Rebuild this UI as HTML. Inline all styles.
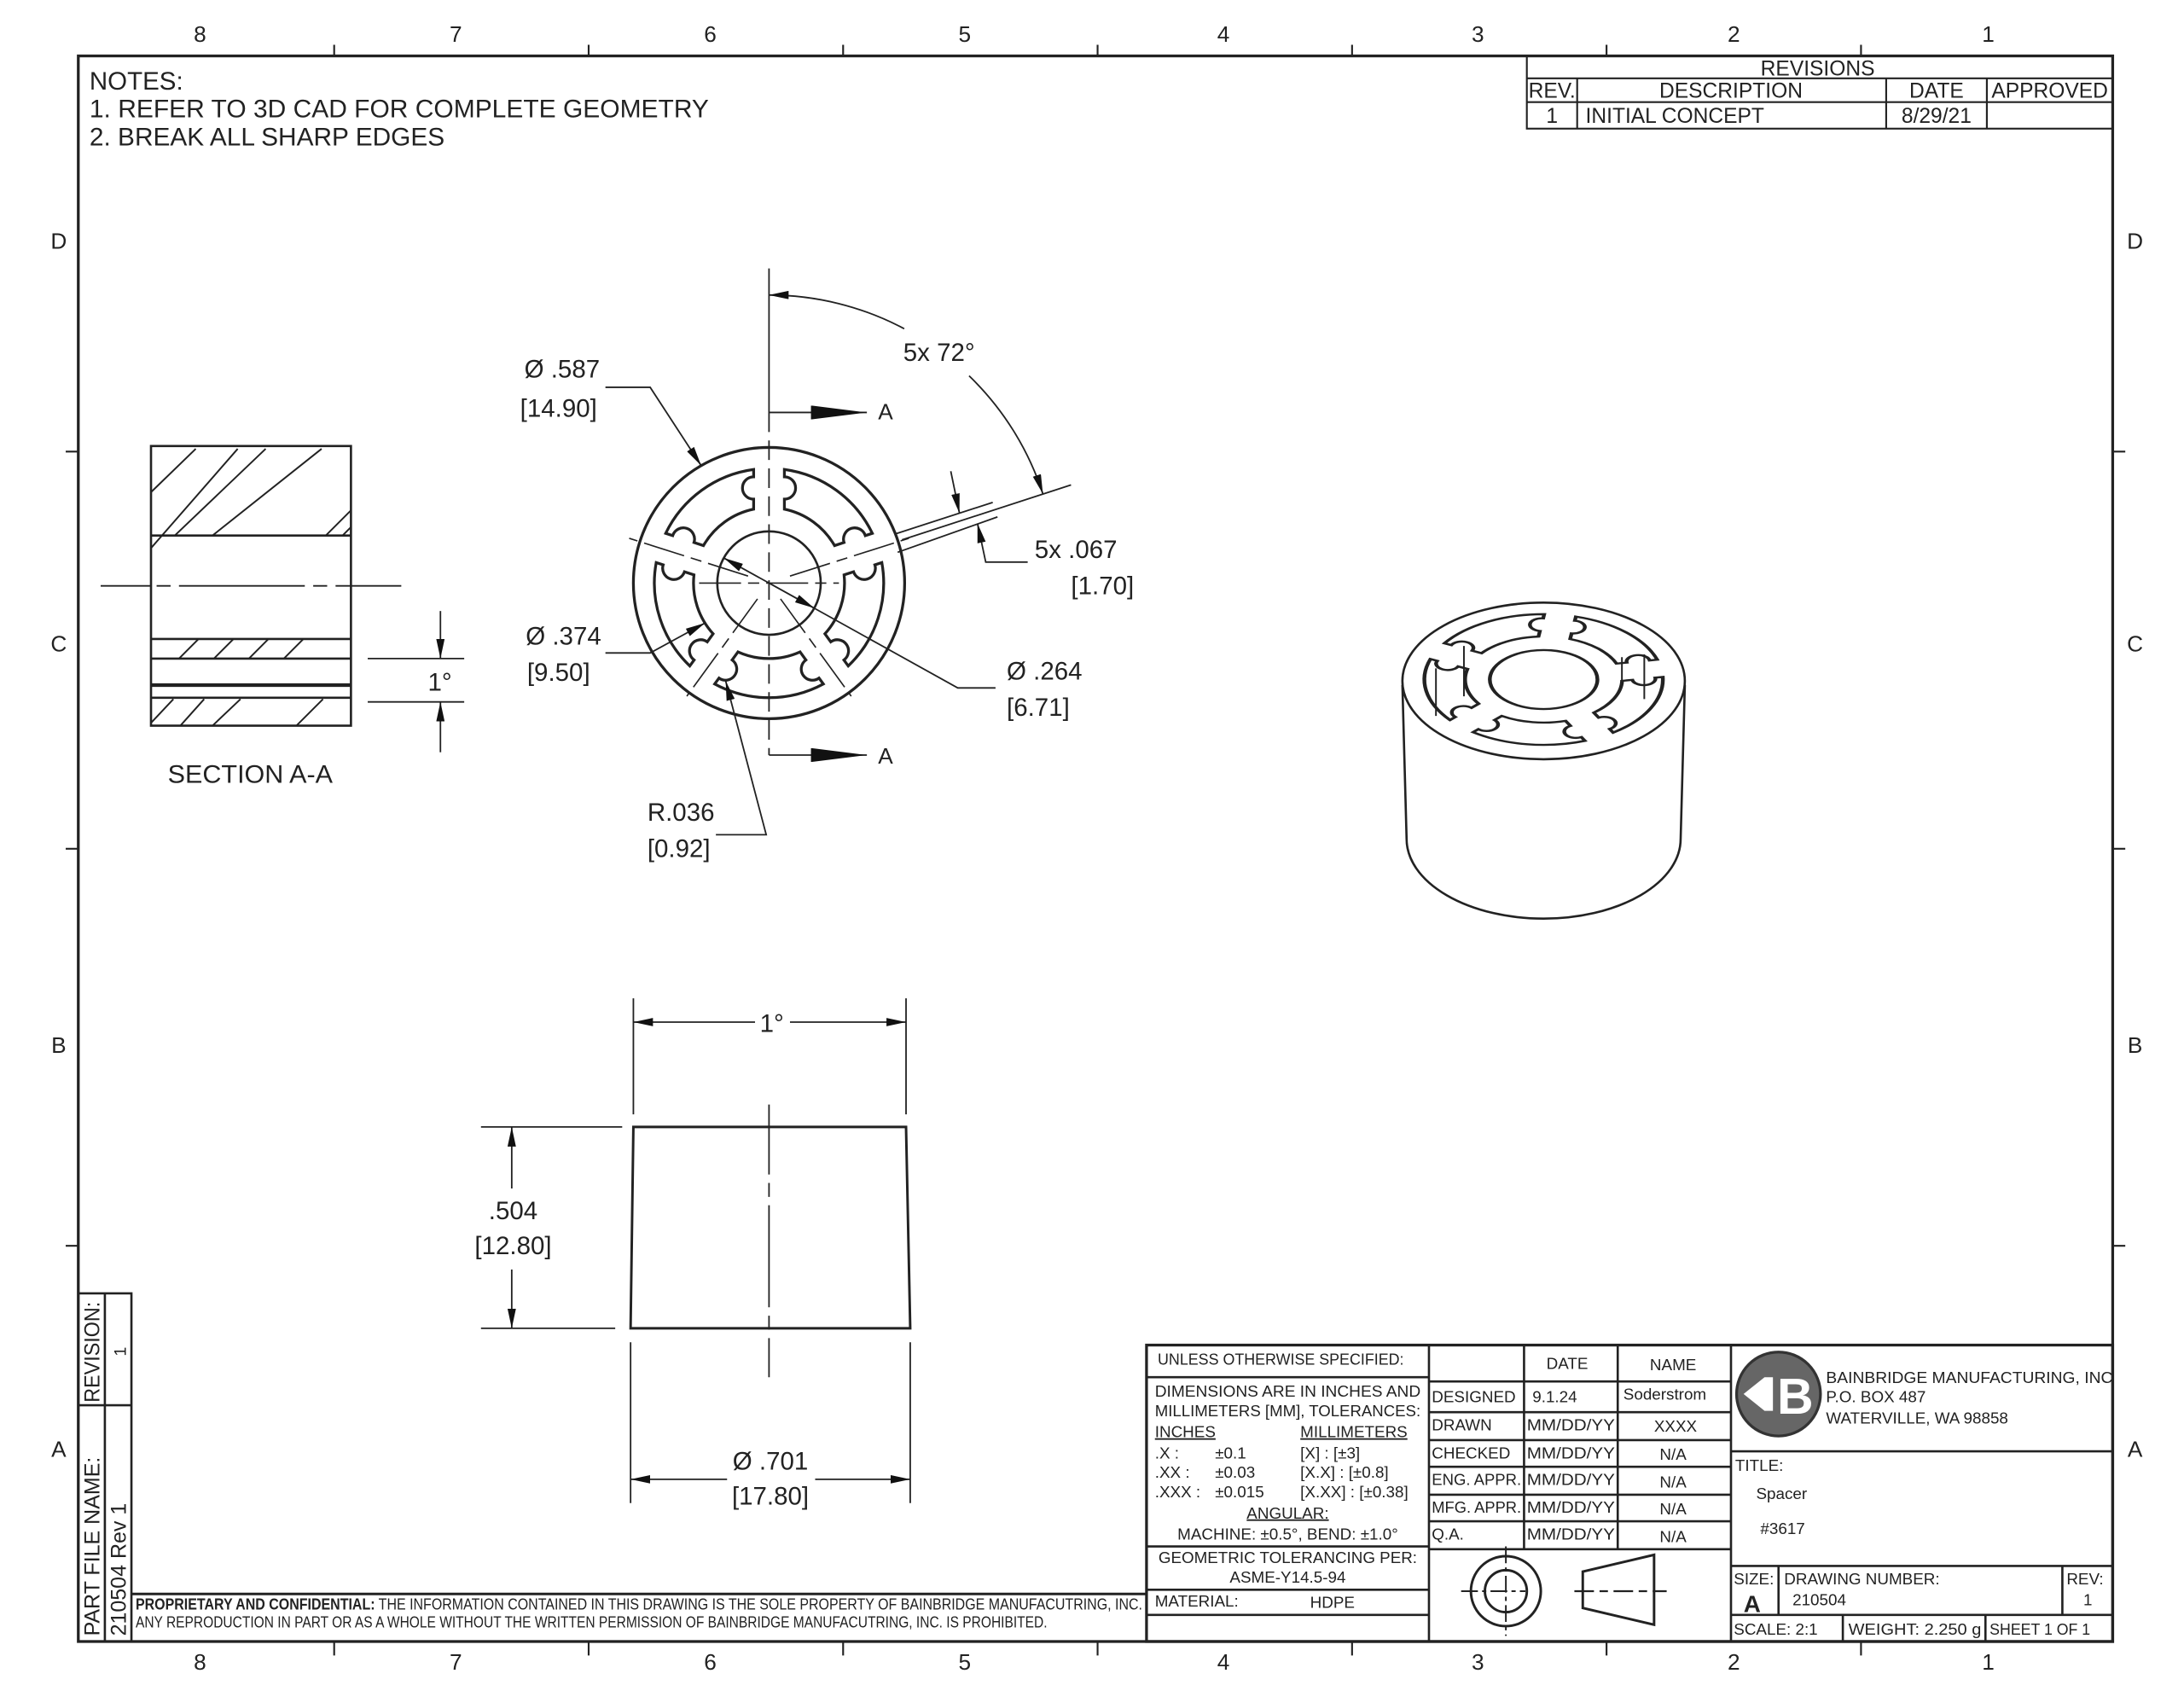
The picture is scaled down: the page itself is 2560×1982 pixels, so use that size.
<!DOCTYPE html>
<html><head><meta charset="utf-8"><style>
html,body{margin:0;padding:0;background:#fff}
svg{display:block}
text{font-family:"Liberation Sans",sans-serif;fill:#222}
</style></head><body>
<svg width="2560" height="1982" viewBox="0 0 1562 1209.4" preserveAspectRatio="none" xmlns="http://www.w3.org/2000/svg">
<defs>
<marker id="ar" viewBox="0 0 14 6" refX="14" refY="3" markerWidth="14" markerHeight="6" markerUnits="userSpaceOnUse" orient="auto-start-reverse"><path d="M0,0 L14,3 L0,6 Z" fill="#111"/></marker>
<marker id="big" viewBox="0 0 40 10" refX="40" refY="5" markerWidth="40" markerHeight="10" markerUnits="userSpaceOnUse" orient="auto"><path d="M0,0 L40,5 L0,10 Z" fill="#111"/></marker>
<path id="slot" d="M11,-81.26 A82,82 0 0 1 73.88,-35.57 L68.88,-33.94 A8,8 0 0 0 53.66,-29.00 L46.88,-26.80 A54,54 0 0 0 11,-52.87 L11,-60 A8,8 0 0 0 11,-76 Z"/>
</defs>
<rect width="1562" height="1210" fill="#fff"/>

<g stroke="#222" fill="none">
<rect x="56" y="40" width="1455" height="1134" stroke-width="2"/>
<g stroke-width="1.3">
<path d="M239,32V40M421,32V40M603,32V40M785,32V40M967,32V40M1149,32V40M1331,32V40"/>
<path d="M239,1174V1184M421,1174V1184M603,1174V1184M785,1174V1184M967,1174V1184M1149,1174V1184M1331,1174V1184"/>
<path d="M47,323H56M47,607H56M47,891H56M1511,323H1520M1511,607H1520M1511,891H1520"/>
</g></g>
<g font-size="16" text-anchor="middle">
<text x="143" y="30">8</text><text x="326" y="30">7</text><text x="508" y="30">6</text><text x="690" y="30">5</text><text x="875" y="30">4</text><text x="1057" y="30">3</text><text x="1240" y="30">2</text><text x="1422" y="30">1</text>
<text x="143" y="1194">8</text><text x="326" y="1194">7</text><text x="508" y="1194">6</text><text x="690" y="1194">5</text><text x="875" y="1194">4</text><text x="1057" y="1194">3</text><text x="1240" y="1194">2</text><text x="1422" y="1194">1</text>
<text x="42" y="178">D</text><text x="42" y="466">C</text><text x="42" y="753">B</text><text x="42" y="1042">A</text>
<text x="1527" y="178">D</text><text x="1527" y="466">C</text><text x="1527" y="753">B</text><text x="1527" y="1042">A</text>
</g>

<g font-size="18">
<text x="64" y="64">NOTES:</text>
<text x="64" y="84" textLength="443" lengthAdjust="spacingAndGlyphs">1.  REFER TO 3D CAD FOR COMPLETE GEOMETRY</text>
<text x="64" y="104" textLength="254" lengthAdjust="spacingAndGlyphs">2.  BREAK ALL SHARP EDGES</text>
</g>

<g stroke="#222" fill="none" stroke-width="1.3">
<rect x="1092" y="40" width="419" height="52"/>
<path d="M1092,56H1511M1092,73H1511M1128,56V92M1349,56V92M1421,56V92"/>
</g>
<g font-size="15" text-anchor="middle">
<text x="1300" y="54">REVISIONS</text>
<text x="1110" y="70">REV.</text><text x="1238" y="70">DESCRIPTION</text><text x="1385" y="70">DATE</text><text x="1466" y="70">APPROVED</text>
<text x="1110" y="88">1</text><text x="1385" y="88">8/29/21</text>
<text x="1134" y="88" text-anchor="start">INITIAL CONCEPT</text>
</g>

<g stroke="#222" fill="none" stroke-width="1.6">
<rect x="108" y="319" width="143" height="200"/>
<path d="M108,383H251M108,457H251M108,471H251M108,499H251"/>
<path d="M108,490H251" stroke-width="2.6"/>
<g stroke-width="1.2">
<path d="M108,352L140,321M108,392L170,321M125,383L190,321M152,383L230,321"/>
<path d="M233,383L251,365M245,383L251,377"/>
<path d="M128,471L142,457M153,471L167,457M178,471L192,457M203,471L217,457"/>
<path d="M108,517L124,500M129,519L146,500M152,519L172,500M212,519L231,500"/>
</g>
<path d="M72,419H108 M112,419H122 M128,419H218 M224,419H234 M240,419H287" stroke-width="1.1"/>
<path d="M263,471H332M263,502H332" stroke-width="1.1"/>
<path d="M315,437V471" stroke-width="1.1" marker-end="url(#ar)"/>
<path d="M315,538V502" stroke-width="1.1" marker-end="url(#ar)"/>
</g>
<text x="306" y="494" font-size="18">1°</text>
<text x="120" y="560" font-size="18" textLength="118" lengthAdjust="spacingAndGlyphs">SECTION A-A</text>

<g transform="translate(550,417)" stroke="#222" fill="none" stroke-width="2">
<circle r="97"/>
<circle r="37" stroke-width="1.6"/>
<use href="#slot"/>
<use href="#slot" transform="rotate(72)"/>
<use href="#slot" transform="rotate(144)"/>
<use href="#slot" transform="rotate(216)"/>
<use href="#slot" transform="rotate(288)"/>
<g stroke-width="1" stroke-dasharray="30,5,8,5">
<path d="M-50,0H50"/>
<path d="M15,-5L100,-32"/>
<path d="M0,14V100" transform="rotate(-36)"/>
<path d="M0,14V100" transform="rotate(36)"/>
<path d="M-15,-5L-100,-32"/>
</g>
</g>
<g stroke="#222" fill="none" stroke-width="1.1">
<path d="M550,192V295"/>
<path d="M550,295V540" stroke-dasharray="14,6"/>
<path d="M550,295H620" marker-end="url(#big)"/>
<path d="M550,540H620" marker-end="url(#big)"/>
<path d="M646.7,235.1 A206,206 0 0 0 550,211" marker-end="url(#ar)"/>
<path d="M693.1,268.8 A206,206 0 0 1 745.9,353.3" marker-end="url(#ar)"/>
<path d="M645.1,386.1 L766,346.8"/>
<path d="M640,382 L710,359.3"/>
<path d="M642,395 L713.4,369.7"/>
<path d="M680,337 L686.2,367" marker-end="url(#ar)"/>
<path d="M735,402 H705 L699.1,374.3" marker-end="url(#ar)"/>
<path d="M433,277H465L501.5,333" marker-end="url(#ar)"/>
<path d="M433,467H465L504.2,445.6" marker-end="url(#ar)"/>
<path d="M550,417 L517.7,399.1" marker-end="url(#ar)"/>
<path d="M712,492 H685 L550,417"/>
<path d="M550,417 L582.3,434.9" marker-end="url(#ar)"/>
<path d="M512,597H548L519,487" marker-end="url(#ar)"/>
</g>
<g font-size="18">
<text x="646" y="258">5x 72°</text>
<text x="740" y="399">5x  .067</text>
<text x="766" y="425">[1.70]</text>
<text x="375" y="270">Ø .587</text>
<text x="372" y="298">[14.90]</text>
<text x="376" y="461">Ø .374</text>
<text x="377" y="487">[9.50]</text>
<text x="720" y="486">Ø .264</text>
<text x="720" y="512">[6.71]</text>
<text x="463" y="587">R.036</text>
<text x="463" y="613">[0.92]</text>
<text x="628" y="300" font-size="16">A</text>
<text x="628" y="546" font-size="16">A</text>
</g>

<g stroke="#222" fill="none" stroke-width="1.8">
<path d="M453,806H648L651,950H451Z"/>
</g>
<g stroke="#222" fill="none" stroke-width="1.1">
<path d="M550,790V840 M550,846V856 M550,862V935 M550,941V951 M550,957V985"/>
<path d="M453,714V797M648,714V797"/>
<path d="M540,731H453" marker-end="url(#ar)"/>
<path d="M565,731H648" marker-end="url(#ar)"/>
<path d="M344,806H445M344,950H440"/>
<path d="M366,850V806" marker-end="url(#ar)"/>
<path d="M366,908V950" marker-end="url(#ar)"/>
<path d="M451,960V1075M651,960V1075"/>
<path d="M520,1058H451" marker-end="url(#ar)"/>
<path d="M583,1058H651" marker-end="url(#ar)"/>
</g>
<g font-size="18" text-anchor="middle">
<text x="552" y="738">1°</text>
<text x="367" y="872">.504</text>
<text x="367" y="897">[12.80]</text>
<text x="551" y="1051">Ø .701</text>
<text x="551" y="1076">[17.80]</text>
</g>

<g stroke="#222" fill="none" stroke-width="1.6">
<path d="M1003,490 L1006,600 A98,57 0 0 0 1202,600 L1205,490"/>
<ellipse cx="1104" cy="487" rx="101" ry="56"/>
<g transform="translate(1104,486) scale(1.04,0.57) rotate(8)" stroke-width="2.6">
<use href="#slot"/>
<use href="#slot" transform="rotate(72)"/>
<use href="#slot" transform="rotate(144)"/>
<use href="#slot" transform="rotate(216)"/>
<use href="#slot" transform="rotate(288)"/>
<circle r="37"/>
</g>
<path d="M1027,478V512M1047,462V498M1176,468V500M1160,470V490" stroke-width="1.2"/>
</g>

<g stroke="#222" fill="none" stroke-width="1.6">
<path d="M56,925H94V1174M75,925V1174M56,1005H94"/>
<path d="M94,1140H820" stroke-width="1.8"/>
</g>
<g font-size="15">
<text transform="translate(71,1003) rotate(-90)" textLength="72" lengthAdjust="spacingAndGlyphs">REVISION:</text>
<text transform="translate(90,970) rotate(-90)" font-size="12">1</text>
<text transform="translate(71,1170) rotate(-90)" textLength="128" lengthAdjust="spacingAndGlyphs">PART FILE NAME:</text>
<text transform="translate(90,1170) rotate(-90)" textLength="95" lengthAdjust="spacingAndGlyphs">210504 Rev 1</text>
</g>
<g font-size="11">
<text x="97" y="1151" textLength="720" lengthAdjust="spacingAndGlyphs"><tspan font-weight="bold">PROPRIETARY AND CONFIDENTIAL:</tspan> THE INFORMATION CONTAINED IN THIS DRAWING IS THE SOLE PROPERTY OF BAINBRIDGE MANUFACUTRING, INC.</text>
<text x="97" y="1164" textLength="652" lengthAdjust="spacingAndGlyphs">ANY REPRODUCTION IN PART OR AS A WHOLE WITHOUT THE WRITTEN PERMISSION OF BAINBRIDGE MANUFACUTRING, INC. IS PROHIBITED.</text>
</g>

<g stroke="#222" fill="none" stroke-width="1.6">
<rect x="820" y="962" width="691" height="212" stroke-width="2"/>
<path d="M1022,962V1174M1238,962V1174M1090,962V1108M1157,962V1108"/>
<path d="M1022,988H1238M1022,1010H1238M1022,1030H1238M1022,1049H1238M1022,1069H1238M1022,1088H1238M1022,1108H1238"/>
<path d="M820,985H1022M820,1106H1022M820,1137H1022M820,1155H1022"/>
<path d="M1238,1038H1511M1238,1120H1511M1238,1155H1511M1272,1120V1155M1475,1120V1155M1318,1155V1174M1420,1155V1174"/>
</g>
<g font-size="11.5">
<text x="828" y="976" textLength="176" lengthAdjust="spacingAndGlyphs">UNLESS OTHERWISE SPECIFIED:</text>
<text x="826" y="999" textLength="190" lengthAdjust="spacingAndGlyphs">DIMENSIONS ARE IN INCHES AND</text>
<text x="826" y="1013" textLength="190" lengthAdjust="spacingAndGlyphs">MILLIMETERS [MM], TOLERANCES:</text>
<text x="826" y="1028" text-decoration="underline">INCHES</text>
<text x="930" y="1028" text-decoration="underline">MILLIMETERS</text>
<text x="826" y="1043">.X :</text><text x="869" y="1043">±0.1</text><text x="930" y="1043">[X]    : [±3]</text>
<text x="826" y="1057">.XX :</text><text x="869" y="1057">±0.03</text><text x="930" y="1057">[X.X]  : [±0.8]</text>
<text x="826" y="1071">.XXX :</text><text x="869" y="1071">±0.015</text><text x="930" y="1071">[X.XX] : [±0.38]</text>
<text x="921" y="1086" text-anchor="middle" text-decoration="underline">ANGULAR:</text>
<text x="921" y="1101" text-anchor="middle">MACHINE: ±0.5°, BEND: ±1.0°</text>
<text x="921" y="1118" text-anchor="middle" textLength="185" lengthAdjust="spacingAndGlyphs">GEOMETRIC TOLERANCING PER:</text>
<text x="921" y="1132" text-anchor="middle">ASME-Y14.5-94</text>
<text x="826" y="1149">MATERIAL:</text><text x="937" y="1150">HDPE</text>
<text x="1106" y="979">DATE</text><text x="1180" y="980">NAME</text>
<text x="1024" y="1003">DESIGNED</text><text x="1096" y="1003">9.1.24</text><text x="1161" y="1001">Soderstrom</text>
<text x="1024" y="1023">DRAWN</text><text x="1092" y="1023" textLength="63" lengthAdjust="spacingAndGlyphs">MM/DD/YY</text><text x="1183" y="1024">XXXX</text>
<text x="1024" y="1043">CHECKED</text><text x="1092" y="1043" textLength="63" lengthAdjust="spacingAndGlyphs">MM/DD/YY</text><text x="1187" y="1044">N/A</text>
<text x="1024" y="1062" textLength="64" lengthAdjust="spacingAndGlyphs">ENG. APPR.</text><text x="1092" y="1062" textLength="63" lengthAdjust="spacingAndGlyphs">MM/DD/YY</text><text x="1187" y="1064">N/A</text>
<text x="1024" y="1082" textLength="64" lengthAdjust="spacingAndGlyphs">MFG. APPR.</text><text x="1092" y="1082" textLength="63" lengthAdjust="spacingAndGlyphs">MM/DD/YY</text><text x="1187" y="1083">N/A</text>
<text x="1024" y="1101">Q.A.</text><text x="1092" y="1101" textLength="63" lengthAdjust="spacingAndGlyphs">MM/DD/YY</text><text x="1187" y="1103">N/A</text>
<text x="1306" y="989" textLength="205" lengthAdjust="spacingAndGlyphs">BAINBRIDGE MANUFACTURING, INC</text>
<text x="1306" y="1003">P.O. BOX 487</text>
<text x="1306" y="1018">WATERVILLE, WA 98858</text>
<text x="1241" y="1052">TITLE:</text>
<text x="1256" y="1072">Spacer</text>
<text x="1259" y="1097">#3617</text>
<text x="1240" y="1133">SIZE:</text>
<text x="1276" y="1133">DRAWING NUMBER:</text>
<text x="1282" y="1148">210504</text>
<text x="1478" y="1133">REV:</text><text x="1490" y="1148">1</text>
<text x="1240" y="1169">SCALE: 2:1</text>
<text x="1322" y="1169" textLength="95" lengthAdjust="spacingAndGlyphs">WEIGHT: 2.250 g</text>
<text x="1423" y="1169" textLength="72" lengthAdjust="spacingAndGlyphs">SHEET 1 OF 1</text>
</g>
<text x="1247" y="1153" font-size="17" font-weight="bold">A</text>
<circle cx="1272" cy="997" r="30" fill="#666" stroke="#333" stroke-width="2"/>
<path d="M1247,997 L1262,985 L1268,985 L1268,1009 L1262,1009 Z" fill="#fff"/>
<text x="1284" y="1011" font-size="36" font-weight="bold" text-anchor="middle" style="fill:#fff">B</text>
<g stroke="#222" fill="none" stroke-width="1.8">
<circle cx="1077" cy="1138" r="25"/>
<circle cx="1077" cy="1138" r="15"/>
<path d="M1077,1106V1170M1045,1138H1091" stroke-width="1.2" stroke-dasharray="12,3,3,3"/>
<path d="M1132,1124L1183,1112V1162L1132,1150Z"/>
<path d="M1126,1138H1192" stroke-width="1.4" stroke-dasharray="14,4,6,4"/>
</g>
</svg>
</body></html>
